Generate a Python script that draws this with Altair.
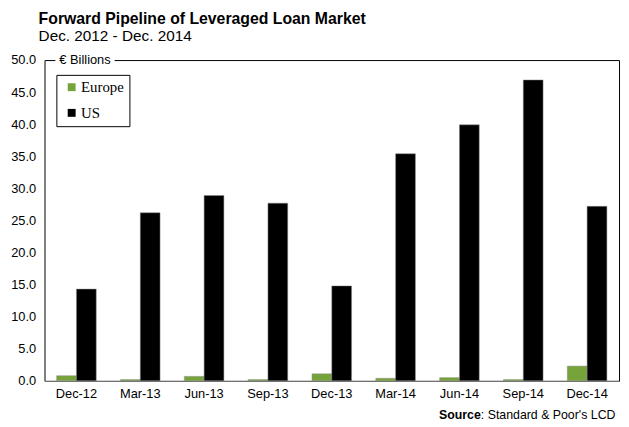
import altair as alt
import pandas as pd

quarters = ["Dec-12", "Mar-13", "Jun-13", "Sep-13", "Dec-13", "Mar-14", "Jun-14", "Sep-14", "Dec-14"]
europe = [0.8, 0.2, 0.7, 0.2, 1.1, 0.4, 0.5, 0.2, 2.3]
us = [14.3, 26.2, 28.9, 27.7, 14.8, 35.4, 39.9, 46.9, 27.2]
series = ["Europe", "US"]
colors = ["#76A33A", "#000000"]
y_ticks = [0, 5, 10, 15, 20, 25, 30, 35, 40, 45, 50]

rows = []
for q, e, u in zip(quarters, europe, us):
    rows.append({"quarter": q, "series": "Europe", "value": e})
    rows.append({"quarter": q, "series": "US", "value": u})
df = pd.DataFrame(rows)

FONT = "Liberation Sans"

bars = alt.Chart(df).mark_bar(stroke="#8a8a8a", strokeWidth=0.5).encode(
    x=alt.X("quarter:N", sort=quarters, title=None,
            scale=alt.Scale(paddingInner=0.38, paddingOuter=0.19),
            axis=alt.Axis(labelAngle=0, ticks=False, domainColor="#808080",
                          labelFont=FONT, labelFontSize=13, labelColor="#000000",
                          labelPadding=7)),
    xOffset=alt.XOffset("series:N", sort=series, scale=alt.Scale(paddingInner=0, paddingOuter=0)),
    y=alt.Y("value:Q", title=None,
            scale=alt.Scale(domain=[0, 50], nice=False),
            axis=alt.Axis(values=y_ticks, format=".1f", ticks=False, grid=False,
                          domainColor="#808080", labelFont=FONT, labelFontSize=13,
                          labelColor="#000000", labelPadding=9)),
    color=alt.Color("series:N", sort=series,
                    scale=alt.Scale(domain=series, range=colors),
                    legend=alt.Legend(title=None, orient="none", legendX=12, legendY=15,
                                      strokeColor="#000000", padding=5, symbolType="square",
                                      symbolSize=64, symbolStrokeWidth=0,
                                      symbolOffset=3, labelOffset=2,
                                      labelFont="Liberation Serif", labelFontSize=15,
                                      labelColor="#000000", rowPadding=10,
                                      fillColor="#ffffff")),
)

one = alt.Data(values=[{}])

cover = alt.Chart(one).mark_rect(color="#ffffff").encode(
    x=alt.value(11), x2=alt.value(71), y=alt.value(-3), y2=alt.value(3)
)
unit_label = alt.Chart(one).mark_text(
    text="€ Billions", font=FONT, fontSize=13, align="left", baseline="middle", color="#000000"
).encode(x=alt.value(15), y=alt.value(0))

title = alt.Chart(one).mark_text(
    text="Forward Pipeline of Leveraged Loan Market", font=FONT, fontSize=16,
    fontWeight="bold", align="left", baseline="alphabetic", color="#000000"
).encode(x=alt.value(-6), y=alt.value(-37))
subtitle = alt.Chart(one).mark_text(
    text="Dec. 2012 - Dec. 2014", font=FONT, fontSize=15.5,
    align="left", baseline="alphabetic", color="#000000"
).encode(x=alt.value(-6), y=alt.value(-19))

source_bold = alt.Chart(one).mark_text(
    text="Source", font=FONT, fontSize=12.5, fontWeight="bold",
    align="right", baseline="alphabetic", color="#000000"
).encode(x=alt.value(442), y=alt.value(364))
source_rest = alt.Chart(one).mark_text(
    text=": Standard & Poor's LCD", font=FONT, fontSize=12.5,
    align="left", baseline="alphabetic", color="#000000"
).encode(x=alt.value(442), y=alt.value(364))

chart = alt.layer(bars, cover, unit_label, title, subtitle, source_bold, source_rest).properties(
    width=582, height=325,
    autosize=alt.AutoSizeParams(type="none"),
    padding={"left": 37, "top": 50, "right": 2, "bottom": 44},
).configure_view(stroke="#000000", strokeWidth=1)

chart.save("out.html", embed_options={"renderer": "svg", "actions": False})
